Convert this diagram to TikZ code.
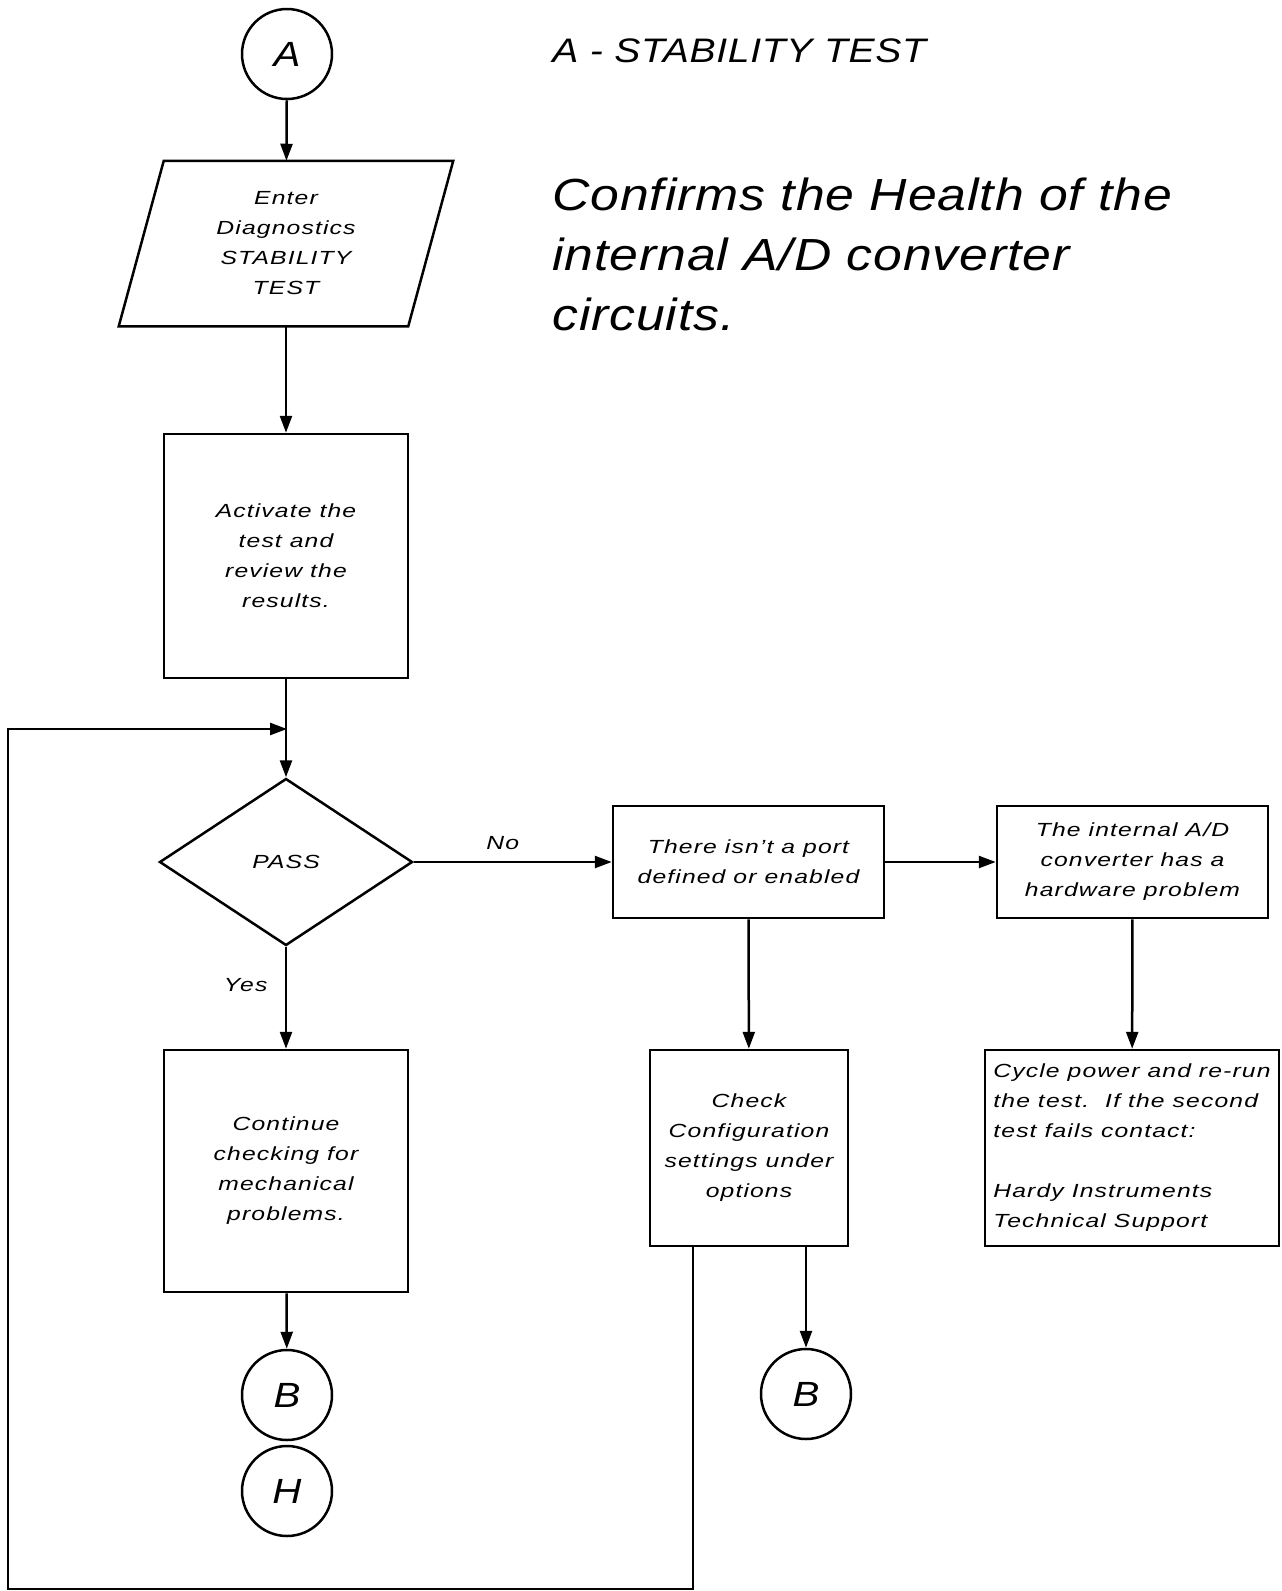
\documentclass[tikz,border=0pt]{standalone}
\usepackage{fontspec}
\setmainfont{Liberation Sans}[FakeStretch=1.3,LetterSpace=6]
\newfontfamily\headfont{Liberation Sans}[FakeStretch=1.15,LetterSpace=2]
\usepackage{xcolor}
\usepackage{tikz}
\usetikzlibrary{arrows.meta,positioning,shapes.geometric,calc}

\begin{document}
\begin{tikzpicture}[x=1pt,y=-1pt,line width=2.5pt,
  font=\fontsize{19}{30}\selectfont\itshape,
  >={Triangle[length=17pt,width=12pt]},
  connector/.style={circle,draw,minimum size=90pt,inner sep=0pt,font=\headfont\fontsize{35}{35}\selectfont\itshape},
  box/.style={rectangle,draw,align=center,inner sep=0pt}]
\useasboundingbox (0,0) rectangle (1282,1591);

\node (title) [anchor=base west,inner sep=0pt,font=\headfont\fontsize{34}{34}\selectfont\itshape] at (551,62) {A - STABILITY TEST};
\node (purpose) [anchor=north west,inner sep=0pt,align=left,font=\headfont\fontsize{45}{60}\selectfont\itshape] at (551,177)
  {Confirms the Health of the\\internal A/D converter\\circuits.};

\node (a) [connector] at (287,54) {A};
\node (enter) [minimum width=332pt,minimum height=163pt,inner sep=0pt,align=center] at (286,243.5)
  {Enter\\Diagnostics\\STABILITY\\TEST};
\draw ($(enter.north west)+(45,0)$) -- (enter.north east) -- ($(enter.south east)-(45,0)$) -- (enter.south west) -- cycle;
\node (activate) [box,minimum width=244pt,minimum height=244pt] at (286,556) {Activate the\\test and\\review the\\results.};
\node (pass) [diamond,draw,minimum width=253pt,minimum height=167pt,inner sep=0pt] at (286,862) {PASS};
\node (port) [box,minimum width=271pt,minimum height=112pt] at (748.5,862) {There isn't a port\\defined or enabled};
\node (internal) [box,minimum width=271pt,minimum height=112pt] at (1132.5,862) {The internal A/D\\converter has a\\hardware problem};
\node (continue) [box,minimum width=244pt,minimum height=242pt] at (286,1171) {Continue\\checking for\\mechanical\\problems.};
\node (check) [box,minimum width=198pt,minimum height=196pt] at (749,1148) {Check\\Configuration\\settings under\\options};
\node (cycle) [box,align=left,minimum width=294pt,minimum height=196pt] at (1132,1148)
  {Cycle power and re-run\\the test.\ \ If the second\\test fails contact:\\[30pt]Hardy Instruments\\Technical Support};
\node (b1) [connector] at (287,1395) {B};
\node (h) [connector] at (287,1491) {H};
\node (b2) [connector] at (806,1394) {B};

\coordinate (merge) at (287,729);
\coordinate (corner) at (8,1589);

\draw[->] (a) -- (enter);
\draw[->] (enter) -- (activate);
\draw[->] (activate) -- (pass);
\draw[->] (pass) -- node[pos=0.45,above=8pt]{No} (port);
\draw[->] (port) -- (internal);
\draw[->] (pass) -- node[pos=0.38,left=14pt]{Yes} (continue);
\draw[->] (continue) -- (b1);
\draw[->] (port) -- (check);
\draw[->] (internal) -- (cycle);
\draw[->] (b2 |- check.south) -- (b2);
\draw[->] ($(check.south)+(-56,0)$) |- (corner) |- (merge);
\end{tikzpicture}
\end{document}
